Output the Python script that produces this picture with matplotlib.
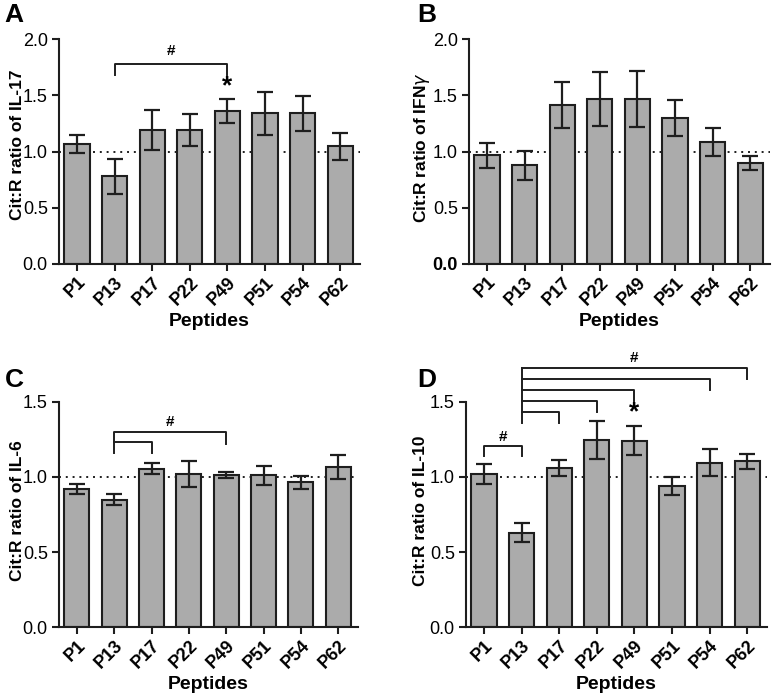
import matplotlib
matplotlib.use("Agg")
import matplotlib.pyplot as plt
import numpy as np

plt.rcParams['font.family'] = ['Liberation Sans', 'DejaVu Sans']

peptides = ['P1', 'P13', 'P17', 'P22', 'P49', 'P51', 'P54', 'P62']

il17 = [1.07, 0.78, 1.19, 1.19, 1.36, 1.34, 1.34, 1.045]
il17_err = [0.08, 0.155, 0.18, 0.14, 0.11, 0.19, 0.155, 0.12]

ifng = [0.966, 0.877, 1.413, 1.464, 1.47, 1.30, 1.084, 0.898]
ifng_err = [0.11, 0.13, 0.205, 0.24, 0.25, 0.16, 0.125, 0.06]

il6 = [0.92, 0.849, 1.056, 1.018, 1.011, 1.011, 0.964, 1.069]
il6_err = [0.033, 0.035, 0.038, 0.085, 0.02, 0.065, 0.043, 0.08]

il10 = [1.02, 0.63, 1.06, 1.248, 1.241, 0.942, 1.096, 1.103]
il10_err = [0.065, 0.065, 0.053, 0.127, 0.095, 0.06, 0.087, 0.052]

bar_color = '#ababab'
ink = '#1e1e1e'


def draw_panel(ax, vals, errs, ylabel, ymax, label_xy, bold_zero=False):
    x = np.arange(len(peptides))
    ax.bar(x, vals, width=0.67, color=bar_color, edgecolor=ink, linewidth=1.5, zorder=2)
    ax.errorbar(x, vals, yerr=errs, fmt='none', ecolor=ink, elinewidth=1.6,
                capsize=5.5, capthick=1.6, zorder=3)
    ax.axhline(1.0, color=ink, linestyle=(0, (1, 2.5)), linewidth=1.4, zorder=1)
    ax.set_xlim(-0.48, 7.53)
    ax.set_ylim(0, ymax)
    ticks = np.arange(0, ymax + 0.01, 0.5)
    ax.set_yticks(ticks)
    ax.set_yticklabels(['%.1f' % v for v in ticks], fontsize=13)
    if bold_zero:
        ax.get_yticklabels()[0].set_fontweight('bold')
    ax.set_xticks(x)
    ax.set_xticklabels(peptides, rotation=45, ha='right', rotation_mode='anchor',
                       fontsize=13, fontweight='bold')
    ax.set_ylabel(ylabel, fontsize=12.5, fontweight='bold')
    ax.yaxis.set_label_coords(*label_xy)
    ax.set_xlabel('Peptides', fontsize=14, fontweight='bold', labelpad=3)
    for s in ['top', 'right']:
        ax.spines[s].set_visible(False)
    for s in ['left', 'bottom']:
        ax.spines[s].set_linewidth(1.5)
        ax.spines[s].set_color(ink)
    ax.tick_params(axis='y', width=1.5, length=5, color=ink, pad=3)
    ax.tick_params(axis='x', width=1.5, length=5, color=ink, pad=2)


def bracket(ax, x1, x2, h, drop1, drop2):
    ax.plot([x1, x1, x2, x2], [h - drop1, h, h, h - drop2], color=ink,
            linewidth=1.4, clip_on=False, zorder=4)


fig = plt.figure(figsize=(7.74, 7.0), dpi=100)
axA = fig.add_axes([0.0762, 0.623, 0.389, 0.321])
axB = fig.add_axes([0.606, 0.623, 0.389, 0.321])
axC = fig.add_axes([0.0762, 0.104, 0.3863, 0.322])
axD = fig.add_axes([0.602, 0.104, 0.389, 0.322])

draw_panel(axA, il17, il17_err, 'Cit:R ratio of IL-17', 2.0, (-0.112, 0.53))
draw_panel(axB, ifng, ifng_err, 'Cit:R ratio of IFN$\\gamma$', 2.0, (-0.122, 0.518), bold_zero=True)
draw_panel(axC, il6, il6_err, 'Cit:R ratio of IL-6', 1.5, (-0.113, 0.515))
draw_panel(axD, il10, il10_err, 'Cit:R ratio of IL-10', 1.5, (-0.126, 0.515))

# A annotations
bracket(axA, 1, 4, 1.78, 0.1, 0.1)
axA.text(2.5, 1.83, '#', ha='center', va='bottom', fontsize=11, fontweight='bold')
axA.text(4, 1.47, '*', ha='center', va='bottom', fontsize=19, fontweight='bold')

# C annotations
bracket(axC, 1, 4, 1.298, 0.138, 0.076)
bracket(axC, 1, 2, 1.233, 0.0, 0.073)
axC.text(2.5, 1.32, '#', ha='center', va='bottom', fontsize=11, fontweight='bold')

# D annotations
bracket(axD, 0, 1, 1.203, 0.067, 0.067)
axD.text(0.5, 1.222, '#', ha='center', va='bottom', fontsize=11, fontweight='bold')
axD.plot([1, 1], [1.36, 1.723], color=ink, linewidth=1.4, clip_on=False, zorder=4)
for target, h in zip([2, 3, 4, 6, 7], [1.433, 1.507, 1.578, 1.65, 1.723]):
    axD.plot([1, target, target], [h, h, h - 0.073], color=ink, linewidth=1.4,
             clip_on=False, zorder=4)
axD.text(4.0, 1.742, '#', ha='center', va='bottom', fontsize=11, fontweight='bold')
axD.text(4, 1.35, '*', ha='center', va='bottom', fontsize=19, fontweight='bold')

# panel letters
for lbl, (px, py) in zip('ABCD', [(4, 3), (417, 3), (5, 368), (417, 368)]):
    fig.text(px / 774, 1 - py / 700, lbl, ha='left', va='top', fontsize=19,
             fontweight='bold')

fig.savefig('out.png', dpi=100)
